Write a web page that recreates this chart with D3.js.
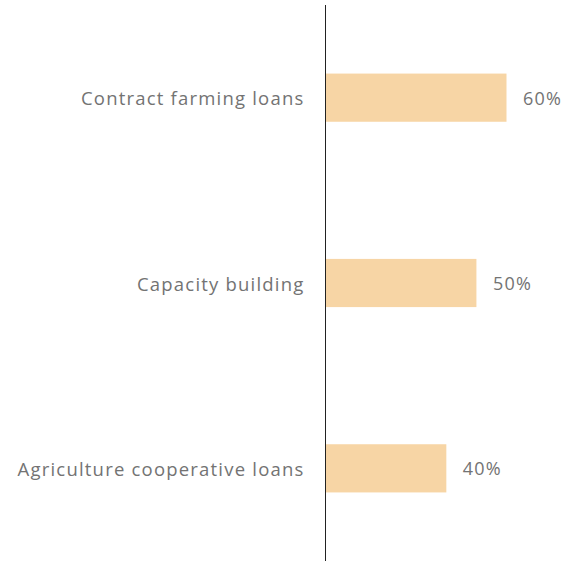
<!DOCTYPE html>
<html>
<head>
<meta charset="utf-8">
<script src="https://cdn.jsdelivr.net/npm/d3@7"></script>
<style>
  html, body { margin: 0; padding: 0; background: #fff; }
  svg { display: block; }
  text { font-family: "Open Sans", "Noto Sans", sans-serif; fill: #737373; letter-spacing: 1.2px; }
</style>
</head>
<body>
<svg id="chart" width="566" height="561"></svg>
<script>
const categories = ["Contract farming loans", "Capacity building", "Agriculture cooperative loans"];
const values = [60, 50, 40];
const valueLabels = ["60%", "50%", "40%"];

const width = 566, height = 561;
const axisX = 325.5;
const svg = d3.select("#chart");

const x = d3.scaleLinear().domain([0, 60]).range([axisX + 0.5, 506.5]);
const y = d3.scaleBand().domain(categories).range([5, 561]).paddingInner(0.74).paddingOuter(0.37);

const rows = categories.map((c, i) => ({ cat: c, value: values[i], label: valueLabels[i] }));

svg.selectAll("rect.bar").data(rows).join("rect")
  .attr("class", "bar")
  .attr("x", x(0))
  .attr("y", d => y(d.cat))
  .attr("width", d => x(d.value) - x(0))
  .attr("height", y.bandwidth())
  .attr("fill", "#f7d5a5");

// category axis on the left of the bars
svg.append("line")
  .attr("x1", axisX).attr("x2", axisX)
  .attr("y1", 5).attr("y2", 561)
  .attr("stroke", "#222").attr("stroke-width", 1);

svg.selectAll("text.cat").data(rows).join("text")
  .attr("class", "cat")
  .attr("x", axisX - 21)
  .attr("y", d => y(d.cat) + y.bandwidth() / 2)
  .attr("text-anchor", "end")
  .attr("dominant-baseline", "central")
  .attr("font-size", 18.5)
  .text(d => d.cat);

svg.selectAll("text.val").data(rows).join("text")
  .attr("class", "val")
  .attr("x", d => x(d.value) + 16.5)
  .attr("y", d => y(d.cat) + y.bandwidth() / 2)
  .attr("dominant-baseline", "central")
  .attr("font-size", 18)
  .text(d => d.label);
</script>
</body>
</html>
